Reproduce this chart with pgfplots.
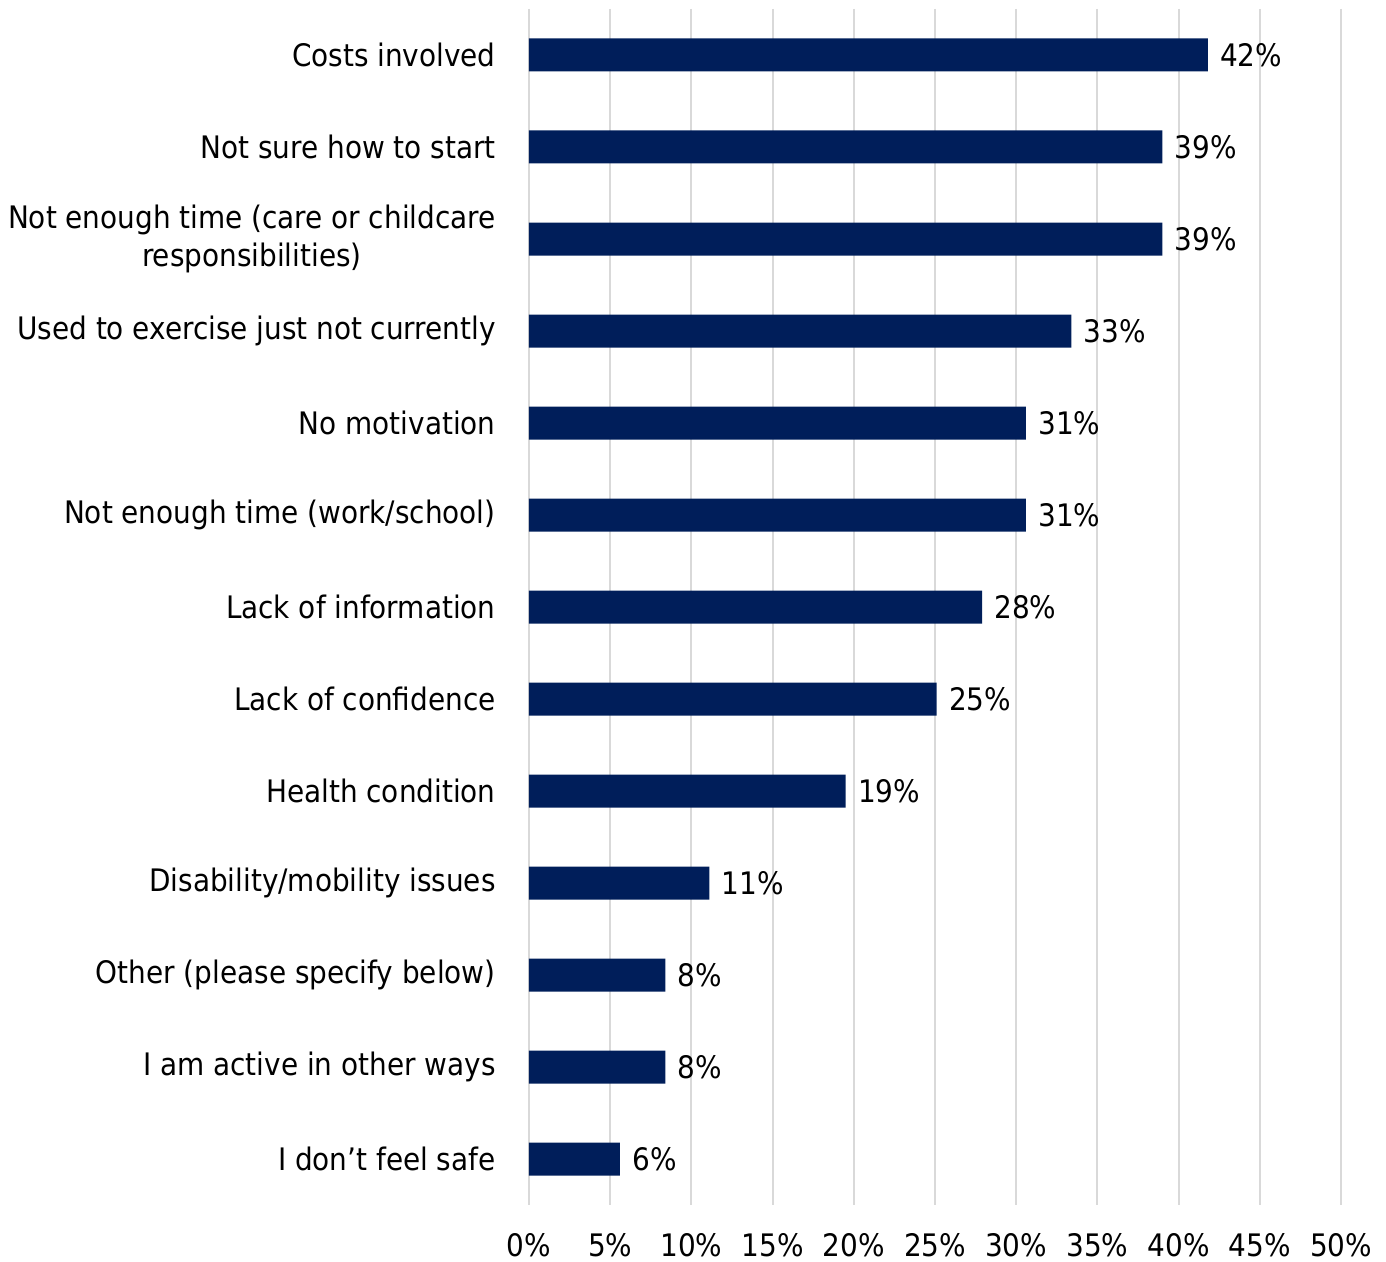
\documentclass[border=0pt]{standalone}
\usepackage{fontspec}
\setmainfont{DejaVu Sans Condensed}
\usepackage{pgfplots}
\pgfplotsset{compat=1.18}
\definecolor{barblue}{HTML}{001E5A}
\definecolor{gridgray}{HTML}{D9D9D9}
\begin{document}
\fontsize{15.5}{19}\selectfont
\begin{tikzpicture}
\useasboundingbox (-264.5pt,-28.5pt) rectangle (428.5pt,602.5pt);
\begin{axis}[
  scale only axis,
  width=406pt, height=598pt,
  xbar, bar width=16.5pt,
  xmin=0, xmax=50,
  ymin=-0.5, ymax=12.5,
  y dir=reverse,
  ytick={0,...,12},
  yticklabels={Costs involved, Not sure how to start, {Not enough time (care or childcare\\responsibilities)}, Used to exercise just not currently, No motivation, Not enough time (work/school), Lack of information, Lack of confidence, Health condition, Disability/mobility issues, Other (please specify below), I am active in other ways, I don’t feel safe},
  xtick={0,5,...,50},
  xticklabel={\pgfmathprintnumber{\tick}\%},
  /pgf/number format/assume math mode=true,
  xmajorgrids, grid style={gridgray, line width=1pt},
  major tick length=0pt,
  axis line style={draw=none},
  y tick label style={align=center, inner sep=0pt, xshift=-16.5pt, font=\fontsize{15.5}{19}\selectfont},
  x tick label style={inner sep=0pt, yshift=-14pt, font=\fontsize{15.5}{19}\selectfont},
  nodes near coords={\pgfmathprintnumber{\pgfplotspointmeta}\%},
  point meta=explicit symbolic,
  nodes near coords style={font=\fontsize{15.5}{19}\selectfont, anchor=west, xshift=5pt, inner sep=1pt},
]
\addplot[fill=barblue, draw=none] table[meta=lab] {
x y lab
41.8 0 42
39.0 1 39
39.0 2 39
33.4 3 33
30.6 4 31
30.6 5 31
27.9 6 28
25.1 7 25
19.5 8 19
11.1 9 11
8.4 10 8
8.4 11 8
5.6 12 6
};
\end{axis}
\end{tikzpicture}
\end{document}
